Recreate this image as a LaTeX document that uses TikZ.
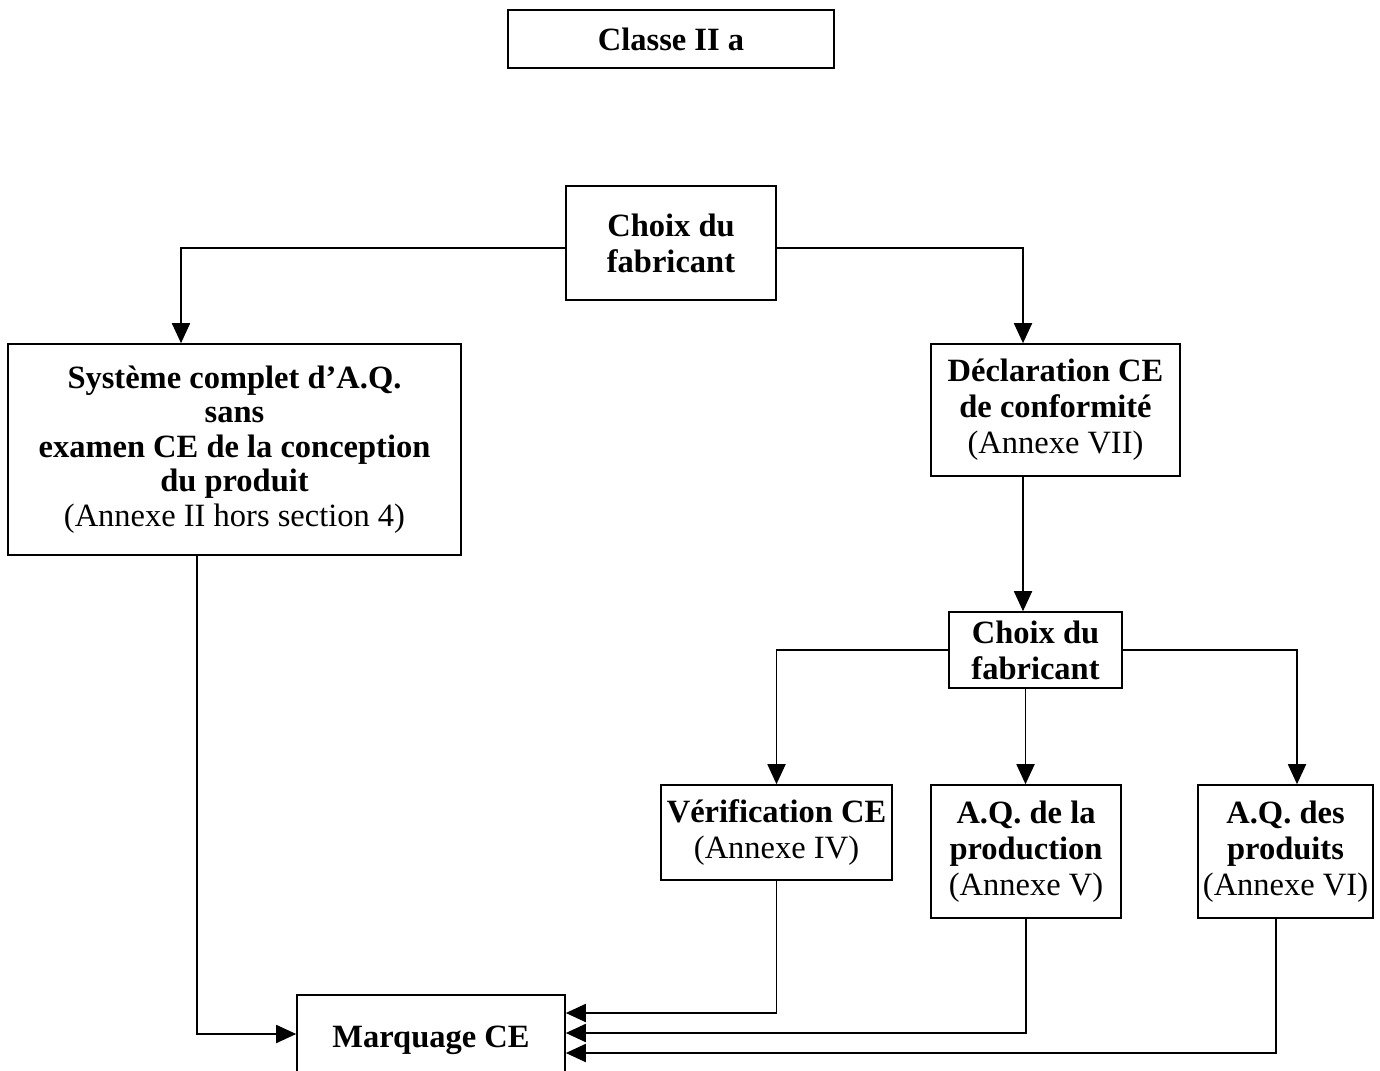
\documentclass[tikz,border=0pt]{standalone}
\usepackage{fontspec}
\setmainfont{Liberation Serif}
\usetikzlibrary{arrows.meta}
\begin{document}
\begin{tikzpicture}[x=1pt,y=-1pt,
  box/.style={draw,line width=1.6pt,inner sep=0pt,align=center,font=\fontsize{32.5}{36}\selectfont},
  arr/.style={line width=1.8pt,-{Triangle[length=20pt,width=18pt]}},
  ln/.style={line width=1.8pt}]
\useasboundingbox (0,0) rectangle (1380,1070);
\clip (0,0) rectangle (1380,1070);
\fill[white] (0,0) rectangle (1380,1070);
\node[box,minimum width=326,minimum height=58] (classe) at (671,39) {\textbf{Classe II a}};
\node[box,minimum width=210,minimum height=114] (choix1) at (671,243) {\textbf{Choix du}\\\textbf{fabricant}};
\node[box,minimum width=453,minimum height=211,font=\fontsize{32.5}{34.5}\selectfont] (sys) at (234.5,449.5) {\textbf{Système complet d’A.Q.}\\\textbf{sans}\\\textbf{examen CE de la conception}\\\textbf{du produit}\\(Annexe II hors section 4)};
\node[box,minimum width=249,minimum height=132] (decl) at (1055.5,410) {\textbf{Déclaration CE}\\\textbf{de conformité}\\(Annexe VII)};
\node[box,minimum width=173,minimum height=76] (choix2) at (1035.5,650) {\textbf{Choix du}\\\textbf{fabricant}};
\node[box,minimum width=231,minimum height=95] (verif) at (776.5,832.5) {\textbf{Vérification CE}\\(Annexe IV)};
\node[box,minimum width=190,minimum height=133] (prod) at (1026,851.5) {\textbf{A.Q. de la}\\\textbf{production}\\(Annexe V)};
\node[box,minimum width=175,minimum height=133] (prods) at (1285.5,851.5) {\textbf{A.Q. des}\\\textbf{produits}\\(Annexe VI)};
\node[box,minimum width=268,minimum height=90] (marq) at (431,1040) {\textbf{Marquage CE}};
% top level
\draw[arr] ([yshift=-5pt]choix1.west) -| ([xshift=-53.5pt]sys.north);
\draw[arr] ([yshift=-5pt]choix1.east) -| ([xshift=-32.5pt]decl.north);
\draw[arr] ([xshift=-32.5pt]decl.south) -- ([xshift=-32.5pt]decl.south |- choix2.north);
% second choice
\draw[arr] (choix2.west) -| (verif.north);
\draw[arr] ([xshift=-10pt]choix2.south) -- ([xshift=-10pt]choix2.south |- prod.north);
\draw[arr] (choix2.east) -| ([xshift=11.5pt]prods.north);
% to marquage
\draw[arr] ([xshift=-37.5pt]sys.south) |- ([yshift=6pt]marq.west);
\draw[arr] (verif.south) |- ([yshift=27pt]marq.east);
\draw[arr] (prod.south) |- ([yshift=7pt]marq.east);
\draw[arr] ([xshift=-9.5pt]prods.south) |- ([yshift=-13pt]marq.east);
\end{tikzpicture}
\end{document}
